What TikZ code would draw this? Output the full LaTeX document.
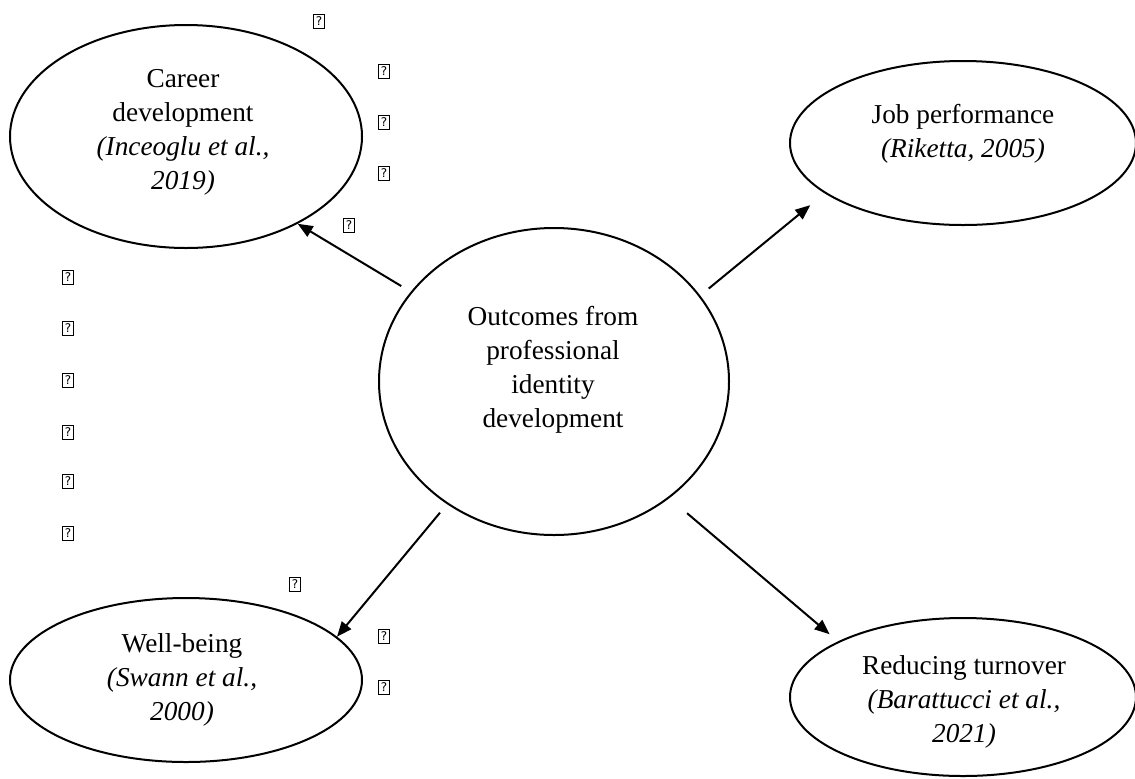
\documentclass[tikz,border=0pt]{standalone}
\usepackage{fontspec}
\setmainfont{Liberation Serif}
\setsansfont{DejaVu Sans}
\usetikzlibrary{shapes.geometric,arrows.meta}
\begin{document}
\begin{tikzpicture}[x=0.5pt,y=-0.5pt,
  oval/.style={draw, ellipse, line width=1pt, inner sep=0pt},
  caption/.style={align=center, font=\fontsize{13.65}{17}\selectfont, inner sep=0pt, anchor=base},
  link/.style={-{Triangle[length=7.5pt,width=6pt]}, line width=1pt},
  glyph/.style={draw, line width=0.35pt, minimum width=5.5pt, minimum height=7pt,
    inner sep=0pt, font=\sffamily\fontsize{6}{6}\selectfont}]
\useasboundingbox (0,0) rectangle (1135,778);

% ovals
\node[oval, minimum width=176pt, minimum height=111.5pt] (career) at (186,136.5) {};
\node[oval, minimum width=173pt, minimum height=82pt] (job) at (963,143) {};
\node[oval, minimum width=175pt, minimum height=153.5pt, outer sep=6pt] (hub) at (554,381.5) {};
\node[oval, minimum width=176pt, minimum height=82pt] (well) at (186,680) {};
\node[oval, minimum width=173pt, minimum height=79pt] (turn) at (963,697) {};

% texts (placed by the baseline of their last line)
\node[caption] (tcareer) at (183,189) {Career\\development\\\textit{(Inceoglu et al.,}\\\textit{2019)}};
\node[caption] (tjob) at (963,157) {Job performance\\\textit{(Riketta, 2005)}};
\node[caption] (thub) at (553,427) {Outcomes from\\professional\\identity\\development};
\node[caption] (twell) at (182,720) {Well-being\\\textit{(Swann et al.,}\\\textit{2000)}};
\node[caption] (tturn) at (964,742) {Reducing turnover\\\textit{(Barattucci et al.,}\\\textit{2021)}};

% arrows
\draw[link] (hub.148.9) -- (career.-38);
\draw[link, shorten >=9.3pt] (hub.31.5) -- (job.200.3);
\draw[link] (hub.229.7) -- (well.16.3);
\draw[link, shorten <=6pt, shorten >=5.5pt] (hub.315.4) -- (turn.156.3);

% stray symbol boxes
\node[glyph] (g1) at (319,21) {?};
\node[glyph] (g2) at (384,71) {?};
\node[glyph] (g3) at (384,122) {?};
\node[glyph] (g4) at (384,173) {?};
\node[glyph] (g5) at (349,225) {?};
\node[glyph] (g6) at (68,277) {?};
\node[glyph] (g7) at (68,328) {?};
\node[glyph] (g8) at (68,380) {?};
\node[glyph] (g9) at (68,432) {?};
\node[glyph] (g10) at (68,481) {?};
\node[glyph] (g11) at (68,533) {?};
\node[glyph] (g12) at (295,584) {?};
\node[glyph] (g13) at (384,636) {?};
\node[glyph] (g14) at (384,687) {?};
\end{tikzpicture}
\end{document}
